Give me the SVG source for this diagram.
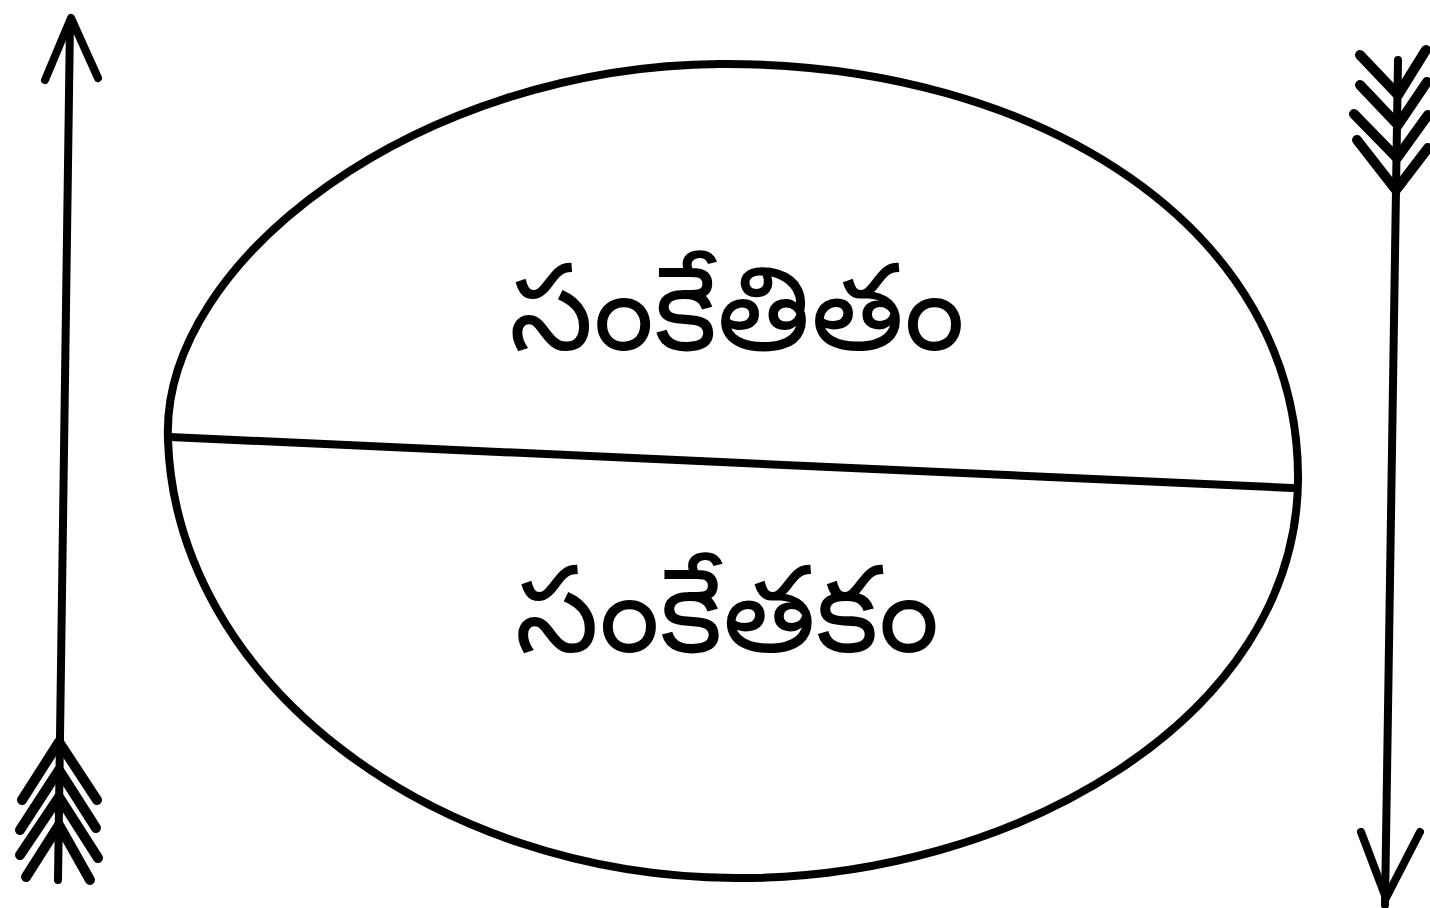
<svg xmlns="http://www.w3.org/2000/svg" width="1430" height="908" viewBox="0 0 1430 908">
<style>
.ln{fill:none;stroke:#000;stroke-width:8;stroke-linecap:round;stroke-linejoin:round}
.fl{fill:none;stroke:#000;stroke-width:10;stroke-linecap:round;stroke-linejoin:round}
.t{font-family:"Noto Sans Telugu","Noto Sans","Lato",sans-serif;font-size:120px;fill:#000;text-anchor:middle}
</style>
<rect width="1430" height="908" fill="#fff"/>
<g id="ellipse-node">
<path class="ln" d="M168,440 C160,260 420,66 720,64 C1040,62 1300,230 1298,480 C1296,720 1010,880 735,878 C430,876 176,680 168,440 Z"/>
<line class="ln" x1="170" y1="437" x2="1292" y2="488"/>
</g>
<g id="label-top"><text class="t" x="737" y="350">సంకేతితం</text></g>
<g id="label-bottom"><text class="t" x="727" y="652">సంకేతకం</text></g>
<g id="connectors">
<g id="arrow-left">
<line class="ln" x1="70" y1="22" x2="58" y2="880"/>
<path class="ln" d="M45,80 L71,18 L98,78"/>
<path class="fl" d="M22,800 L59,742 L97,800"/>
<path class="fl" d="M20,830 L59,770 L96,828"/>
<path class="fl" d="M20,855 L59,797 L98,858"/>
<path class="fl" d="M26,877 L59,825 L90,880"/>
</g>
<g id="arrow-right">
<line class="ln" x1="1398" y1="60" x2="1385" y2="905"/>
<path class="ln" d="M1361,832 L1386,898 L1420,832"/>
<path class="fl" d="M1360,55 L1398,95 L1426,50"/>
<path class="fl" d="M1360,85 L1398,125 L1427,82"/>
<path class="fl" d="M1354,114 L1397,158 L1428,115"/>
<path class="fl" d="M1357,140 L1396,190 L1428,148"/>
</g>
</g>
</svg>
